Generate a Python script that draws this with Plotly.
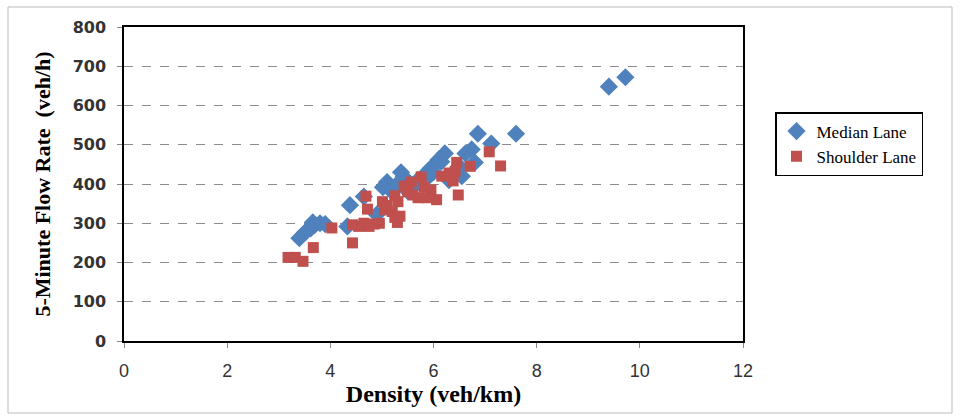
import plotly.graph_objects as go

median_x = [9.40, 9.72, 7.60, 7.12, 6.86, 6.74, 6.62, 6.50, 6.45, 6.22, 6.15, 6.10, 5.96, 5.90, 5.80,
            5.70, 5.37, 5.42, 5.10, 5.02, 5.20, 4.65, 4.38, 4.90, 3.40, 3.52, 3.62, 3.70, 3.80, 3.90,
            3.66, 4.33, 5.50, 5.60, 6.30, 6.55, 6.80, 5.30, 6.00, 5.85]
median_y = [648, 672, 528, 503, 528, 488, 478, 445, 425, 478, 457, 462, 442, 432, 420,
            410, 430, 418, 405, 392, 380, 368, 346, 322, 262, 278, 287, 296, 300, 298,
            302, 292, 382, 392, 410, 420, 455, 400, 430, 412]

shoulder_x = [3.18, 3.32, 3.47, 3.67, 4.03, 4.43, 4.43, 4.55, 4.65, 4.75, 4.85, 4.95, 4.69, 4.72,
              5.01, 5.05, 5.20, 5.25, 5.30, 5.35, 5.31, 5.43, 5.57, 5.76, 5.82, 5.95, 5.70, 5.88,
              6.06, 6.16, 6.38, 6.45, 6.42, 6.71, 6.48, 7.08, 7.30, 5.10, 5.50, 5.60, 6.30, 5.25]
shoulder_y = [213, 213, 203, 238, 288, 250, 296, 292, 300, 292, 298, 300, 369, 336,
              355, 334, 330, 315, 302, 318, 355, 395, 405, 418, 392, 385, 365, 365,
              360, 420, 408, 455, 432, 445, 372, 482, 446, 345, 380, 372, 428, 370]

y_ticks = [0, 100, 200, 300, 400, 500, 600, 700, 800]
x_ticks = [0, 2, 4, 6, 8, 10, 12]

fig = go.Figure()
fig.add_trace(go.Scatter(x=median_x, y=median_y, mode="markers", name="Median Lane",
                         marker=dict(symbol="diamond", size=14, color="#4F81BD",
                                     line=dict(width=0))))
fig.add_trace(go.Scatter(x=shoulder_x, y=shoulder_y, mode="markers", name="Shoulder Lane",
                         marker=dict(symbol="square", size=11, color="#C0504D",
                                     line=dict(width=0))))

W, H = 960, 416
L, R, T, B = 124, 217, 27, 75
pw, ph = W - L - R, H - T - B

def px(x):
    return (x - L) / pw

def py(y):
    return (H - B - y) / ph

fig.update_layout(
    width=W, height=H,
    margin=dict(l=L, r=R, t=T, b=B),
    paper_bgcolor="white", plot_bgcolor="white",
    showlegend=True,
    legend=dict(x=px(775), y=py(112), xanchor="left", yanchor="top",
                bordercolor="black", borderwidth=1.5, bgcolor="white",
                font=dict(family="Liberation Serif", size=17, color="black"),
                itemwidth=30, tracegroupgap=0),
    xaxis=dict(range=[0, 12], tickvals=x_ticks, ticks="outside", ticklen=5,
               tickcolor="#888", showgrid=False, zeroline=False,
               showline=True, linecolor="black", linewidth=1.5, mirror=True,
               ticklabelstandoff=8,
               tickfont=dict(family="Liberation Sans", size=18, color="#333"),
               title=dict(text="<b>Density (veh/km)</b>", standoff=0,
                          font=dict(family="Liberation Serif", size=24, color="black"))),
    yaxis=dict(range=[0, 800], tickvals=y_ticks, ticks="outside", ticklen=5,
               tickcolor="#888", showgrid=True, gridcolor="#8c8c8c", griddash="dash",
               gridwidth=1, zeroline=False,
               showline=True, linecolor="black", linewidth=1.5, mirror=True,
               ticklabelstandoff=8,
               tickfont=dict(family="DejaVu Sans", size=16, color="#333", weight="bold"),
               title=dict(text="<b>5-Minute Flow Rate  (veh/h)</b>", standoff=16,
                          font=dict(family="Liberation Serif", size=22, color="black"))),
    shapes=[dict(type="rect", xref="paper", yref="paper",
                 x0=px(8), x1=px(952), y0=py(413), y1=py(7),
                 line=dict(color="#bbbbbb", width=1), layer="below")],
)

fig.write_html("out.html")
